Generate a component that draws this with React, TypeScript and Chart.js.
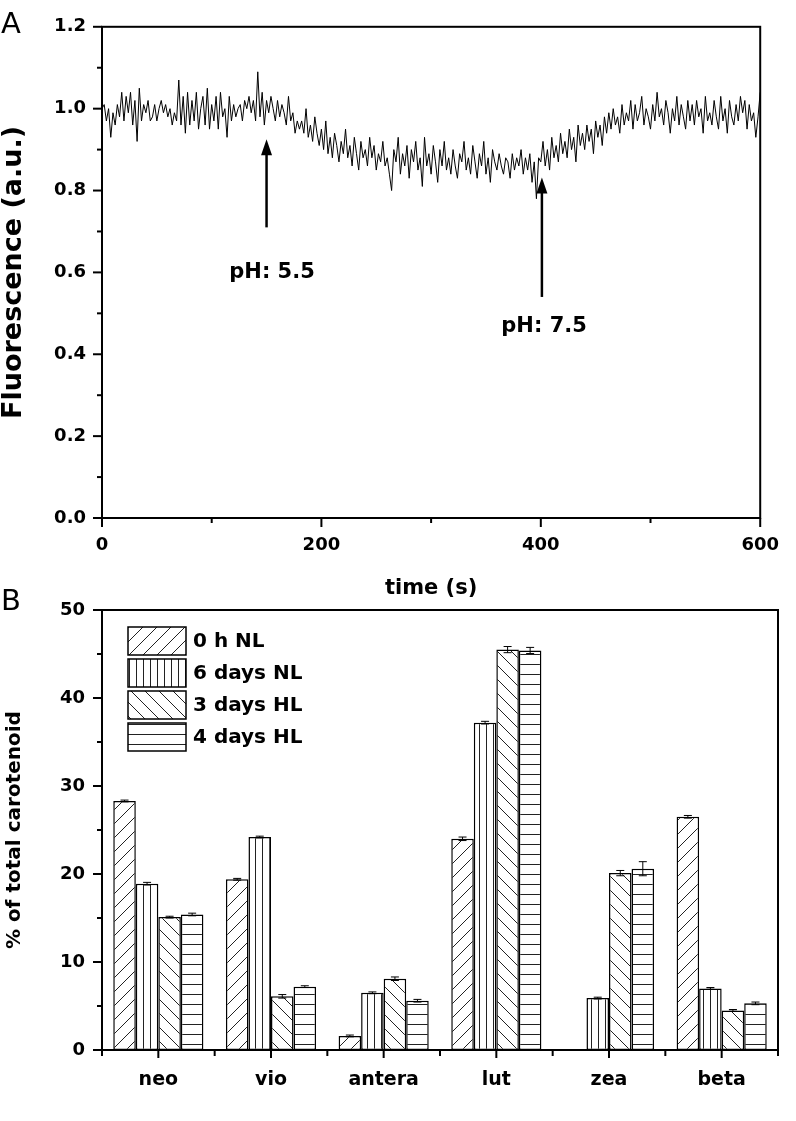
import React, { useEffect, useRef } from "react";
import { Chart, registerables } from "chart.js";

Chart.register(...registerables);

const FONT = "'DejaVu Sans', 'Liberation Sans', sans-serif";

// ---------- Panel A data (time in s, sampled every 2 s) ----------
const times: number[] = Array.from({ length: 301 }, (_, i) => i * 2);
const fluorescence: number[] = [
  1.00, 1.01, 0.97, 1.00, 0.93, 0.99, 0.96, 1.01, 0.98, 1.04,
  0.97, 1.03, 0.99, 1.04, 0.96, 1.02, 0.92, 1.05, 0.97, 1.01,
  0.99, 1.02, 0.97, 0.98, 1.01, 0.97, 1.00, 1.02, 0.99, 1.01,
  0.98, 1.00, 0.96, 0.99, 0.97, 1.07, 0.96, 1.03, 0.94, 1.04,
  0.96, 1.02, 0.97, 1.04, 0.95, 1.00, 1.03, 0.96, 1.05, 0.95,
  1.01, 0.97, 1.03, 0.95, 1.04, 0.98, 1.00, 0.93, 1.03, 0.97,
  1.01, 0.98, 1.00, 1.01, 0.97, 1.02, 1.00, 1.03, 0.99, 1.02,
  0.97, 1.09, 0.98, 1.04, 0.96, 1.02, 0.99, 1.03, 1.00, 0.97,
  1.02, 0.98, 1.01, 0.99, 0.96, 1.03, 0.97, 0.99, 0.94, 0.97,
  0.95, 0.97, 0.94, 1.00, 0.93, 0.96, 0.92, 0.98, 0.94, 0.91,
  0.95, 0.90, 0.97, 0.89, 0.93, 0.88, 0.94, 0.91, 0.87, 0.92,
  0.89, 0.95, 0.88, 0.91, 0.86, 0.93, 0.89, 0.85, 0.92, 0.88,
  0.90, 0.86, 0.93, 0.88, 0.91, 0.85, 0.89, 0.87, 0.92, 0.86,
  0.88, 0.84, 0.80, 0.90, 0.87, 0.93, 0.84, 0.89, 0.86, 0.91,
  0.83, 0.90, 0.87, 0.92, 0.85, 0.88, 0.81, 0.93, 0.86, 0.89,
  0.84, 0.91, 0.87, 0.82, 0.90, 0.86, 0.92, 0.85, 0.88, 0.84,
  0.90, 0.86, 0.83, 0.89, 0.87, 0.92, 0.85, 0.88, 0.84, 0.91,
  0.87, 0.83, 0.89, 0.86, 0.92, 0.84, 0.88, 0.82, 0.90, 0.87,
  0.85, 0.89, 0.86, 0.84, 0.88, 0.87, 0.83, 0.89, 0.85, 0.88,
  0.86, 0.90, 0.84, 0.88, 0.85, 0.89, 0.82, 0.87, 0.78, 0.88,
  0.87, 0.92, 0.86, 0.90, 0.85, 0.93, 0.88, 0.91, 0.87, 0.94,
  0.89, 0.92, 0.88, 0.95, 0.90, 0.93, 0.87, 0.96, 0.91, 0.94,
  0.90, 0.96, 0.92, 0.95, 0.89, 0.97, 0.93, 0.96, 0.91, 0.98,
  0.94, 0.99, 0.95, 1.00, 0.96, 0.98, 0.94, 1.01, 0.96, 0.99,
  0.97, 1.02, 0.95, 1.01, 0.97, 0.99, 1.03, 0.96, 1.00, 0.98,
  0.95, 1.01, 0.97, 1.04, 0.98, 1.00, 0.96, 1.02, 0.99, 0.94,
  1.00, 0.97, 1.03, 0.96, 1.01, 0.98, 0.95, 1.02, 0.97, 1.01,
  0.96, 1.02, 0.98, 1.00, 0.94, 1.03, 0.97, 0.99, 0.96, 1.02,
  0.98, 0.95, 1.03, 0.97, 1.00, 0.94, 1.02, 0.98, 0.96, 1.01,
  0.97, 1.03, 0.99, 1.02, 0.95, 1.01, 0.97, 0.99, 0.93, 0.98,
  1.04,
];
// arrows: [time, tail value, head value], labels: [text, time, value]
const arrowsA = [
  [150, 0.71, 0.925],
  [401, 0.54, 0.832],
];
const arrowLabels: [string, number, number][] = [
  ["pH: 5.5", 155, 0.60],
  ["pH: 7.5", 403, 0.468],
];

// ---------- Panel B data ----------
const pigments = ["neo", "vio", "antera", "lut", "zea", "beta"];
const seriesNames = ["0 h NL", "6 days NL", "3 days HL", "4 days HL"];
const nl0h = [28.3, 19.4, 1.6, 24.0, null, 26.5];
const nl6d = [18.9, 24.2, 6.5, 37.2, 5.9, 7.0];
const hl3d = [15.1, 6.1, 8.1, 45.5, 20.1, 4.5];
const hl4d = [15.4, 7.2, 5.6, 45.4, 20.6, 5.3];
const err0h = [0.1, 0.1, 0.1, 0.2, 0, 0.15];
const err6d = [0.15, 0.1, 0.1, 0.15, 0.1, 0.1];
const err3d = [0.1, 0.2, 0.2, 0.35, 0.3, 0.1];
const err4d = [0.15, 0.1, 0.15, 0.35, 0.8, 0.15];
const patternKinds = ["/", "v", "\\", "h"];

function makePattern(kind: string): CanvasPattern | string {
  const c = document.createElement("canvas");
  let w = 14, h = 14;
  if (kind === "v") { w = 7; h = 7; }
  if (kind === "h") { w = 10; h = 10; }
  c.width = w; c.height = h;
  const g = c.getContext("2d");
  if (!g) return "#fff";
  g.fillStyle = "#fff";
  g.fillRect(0, 0, w, h);
  g.strokeStyle = "#222";
  g.lineWidth = 1;
  g.beginPath();
  if (kind === "/") {
    g.moveTo(0, h); g.lineTo(w, 0);
    g.moveTo(-2, 2); g.lineTo(2, -2);
    g.moveTo(w - 2, h + 2); g.lineTo(w + 2, h - 2);
  } else if (kind === "\\") {
    g.moveTo(0, 0); g.lineTo(w, h);
    g.moveTo(-2, h - 2); g.lineTo(2, h + 2);
    g.moveTo(w - 2, -2); g.lineTo(w + 2, 2);
  } else if (kind === "v") {
    g.moveTo(3.5, 0); g.lineTo(3.5, h);
  } else {
    g.moveTo(0, 4.5); g.lineTo(w, 4.5);
  }
  g.stroke();
  const p = g.createPattern(c, "repeat");
  return p || "#fff";
}

function line(ctx: CanvasRenderingContext2D, x1: number, y1: number, x2: number, y2: number) {
  ctx.beginPath();
  ctx.moveTo(x1, y1);
  ctx.lineTo(x2, y2);
  ctx.stroke();
}

const topPlugin = {
  id: "topDecor",
  afterDraw(chart: any) {
    const { ctx, chartArea: a, scales } = chart;
    const x = scales.x, y = scales.y;
    ctx.save();
    ctx.strokeStyle = "#000";
    ctx.lineWidth = 2;
    ctx.strokeRect(a.left, a.top, a.right - a.left, a.bottom - a.top);
    for (let i = 0; i <= 12; i++) {
      const py = y.getPixelForValue(i / 10);
      const len = i % 2 === 0 ? 9 : 5;
      line(ctx, a.left - len, py, a.left, py);
    }
    for (let t = 0; t <= 600; t += 100) {
      const px = x.getPixelForValue(t);
      const len = t % 200 === 0 ? 9 : 5;
      line(ctx, px, a.bottom, px, a.bottom + len);
    }
    // arrows
    ctx.fillStyle = "#000";
    for (const [t, v0, v1] of arrowsA) {
      const px = x.getPixelForValue(t);
      const y0 = y.getPixelForValue(v0);
      const y1 = y.getPixelForValue(v1);
      ctx.lineWidth = 2.5;
      line(ctx, px, y0, px, y1 + 12);
      ctx.beginPath();
      ctx.moveTo(px, y1);
      ctx.lineTo(px - 5.5, y1 + 16);
      ctx.lineTo(px + 5.5, y1 + 16);
      ctx.closePath();
      ctx.fill();
    }
    ctx.font = `bold 21px ${FONT}`;
    ctx.textAlign = "center";
    ctx.textBaseline = "middle";
    for (const [txt, t, v] of arrowLabels) {
      ctx.fillText(txt, x.getPixelForValue(t), y.getPixelForValue(v));
    }
    ctx.font = `29px ${FONT}`;
    ctx.textAlign = "left";
    ctx.textBaseline = "alphabetic";
    ctx.fillText("A", 1, 33);
    ctx.restore();
  },
};

const errorSets = [err0h, err6d, err3d, err4d];

const bottomPlugin = {
  id: "bottomDecor",
  afterDatasetsDraw(chart: any) {
    const { ctx, scales } = chart;
    const y = scales.y;
    ctx.save();
    ctx.strokeStyle = "#000";
    ctx.lineWidth = 1;
    chart.data.datasets.forEach((ds: any, i: number) => {
      const meta = chart.getDatasetMeta(i);
      meta.data.forEach((el: any, j: number) => {
        const v = ds.data[j];
        const e = errorSets[i][j];
        if (v == null || !e) return;
        const yt = y.getPixelForValue(v + e);
        const yb = y.getPixelForValue(v - e);
        line(ctx, el.x, yt, el.x, yb);
        line(ctx, el.x - 4, yt, el.x + 4, yt);
        line(ctx, el.x - 4, yb, el.x + 4, yb);
      });
    });
    ctx.restore();
  },
  afterDraw(chart: any) {
    const { ctx, chartArea: a, scales } = chart;
    const x = scales.x, y = scales.y;
    ctx.save();
    ctx.strokeStyle = "#000";
    ctx.lineWidth = 2;
    ctx.strokeRect(a.left, a.top, a.right - a.left, a.bottom - a.top);
    for (let v = 0; v <= 50; v += 5) {
      const py = y.getPixelForValue(v);
      const len = v % 10 === 0 ? 9 : 5;
      line(ctx, a.left - len, py, a.left, py);
    }
    const n = pigments.length;
    const w = (a.right - a.left) / n;
    for (let i = 0; i < n; i++) {
      const c = x.getPixelForValue(i);
      line(ctx, c, a.bottom, c, a.bottom + 8);
    }
    for (let i = 0; i <= n; i++) {
      const b = a.left + i * w;
      line(ctx, b, a.bottom, b, a.bottom + 6);
    }
    // legend
    const pats = chart.data.datasets.map((d: any) => d.backgroundColor);
    ctx.font = `bold 20px ${FONT}`;
    ctx.textAlign = "left";
    ctx.textBaseline = "middle";
    for (let i = 0; i < seriesNames.length; i++) {
      const bx = 128, by = a.top + 17 + i * 32, bw = 58, bh = 28;
      ctx.fillStyle = pats[i];
      ctx.fillRect(bx, by, bw, bh);
      ctx.lineWidth = 1.5;
      ctx.strokeRect(bx, by, bw, bh);
      ctx.fillStyle = "#000";
      ctx.fillText(seriesNames[i], 193, by + bh / 2 + 1);
    }
    ctx.font = `29px ${FONT}`;
    ctx.textBaseline = "alphabetic";
    ctx.fillText("B", 1, a.top);
    ctx.restore();
  },
};

export default function App() {
  const r1 = useRef<HTMLCanvasElement>(null);
  const r2 = useRef<HTMLCanvasElement>(null);

  useEffect(() => {
    const tickFont = { family: FONT, size: 18, weight: "bold" as const };
    const c1 = new Chart(r1.current as HTMLCanvasElement, {
      type: "line",
      data: {
        datasets: [
          {
            data: times.map((t, i) => ({ x: t, y: fluorescence[i] })),
            borderColor: "#000",
            borderWidth: 1,
            pointRadius: 0,
            tension: 0,
            fill: false,
          },
        ],
      },
      options: {
        responsive: false,
        animation: false,
        events: [],
        layout: { padding: { top: 24, right: 20, left: 0, bottom: 0 } },
        plugins: { legend: { display: false }, tooltip: { enabled: false } },
        scales: {
          x: {
            type: "linear",
            min: 0,
            max: 600,
            afterFit: (s: any) => { s.height = 82; },
            grid: { display: false, drawTicks: false },
            border: { display: false },
            ticks: { stepSize: 200, padding: 17, color: "#000", font: tickFont, maxRotation: 0 },
            title: {
              display: true,
              text: "time (s)",
              color: "#000",
              font: { family: FONT, size: 21, weight: "bold", lineHeight: 1 },
              padding: { top: 0, bottom: 1 },
            },
          },
          y: {
            type: "linear",
            min: 0,
            max: 1.2,
            afterFit: (s: any) => { s.width = 102; },
            grid: { display: false, drawTicks: false },
            border: { display: false },
            ticks: {
              stepSize: 0.2,
              padding: 16,
              color: "#000",
              font: tickFont,
              callback: (v: any) => Number(v).toFixed(1),
            },
            title: {
              display: true,
              text: "Fluorescence (a.u.)",
              color: "#000",
              font: { family: FONT, size: 27, weight: "bold", lineHeight: 1 },
              padding: { top: 0, bottom: 0 },
            },
          },
        },
      },
      plugins: [topPlugin],
    });

    const series = [nl0h, nl6d, hl3d, hl4d];
    const c2 = new Chart(r2.current as HTMLCanvasElement, {
      type: "bar",
      data: {
        labels: pigments,
        datasets: series.map((d, i) => ({
          label: seriesNames[i],
          data: d,
          backgroundColor: makePattern(patternKinds[i]) as any,
          borderColor: "#000",
          borderWidth: 1.5,
          borderSkipped: false,
          categoryPercentage: 0.8,
          barPercentage: 1,
        })),
      },
      options: {
        responsive: false,
        animation: false,
        events: [],
        layout: { padding: { top: 50, right: 18, left: 0, bottom: 0 } },
        plugins: { legend: { display: false }, tooltip: { enabled: false } },
        scales: {
          x: {
            type: "category",
            afterFit: (s: any) => { s.height = 71; },
            grid: { display: false, drawTicks: false },
            border: { display: false },
            ticks: { padding: 19, color: "#000", font: { family: FONT, size: 19, weight: "bold" }, maxRotation: 0 },
          },
          y: {
            type: "linear",
            min: 0,
            max: 50,
            afterFit: (s: any) => { s.width = 102; },
            grid: { display: false, drawTicks: false },
            border: { display: false },
            ticks: { stepSize: 10, padding: 17, color: "#000", font: tickFont },
            title: {
              display: true,
              text: "% of total carotenoid",
              color: "#000",
              font: { family: FONT, size: 20, weight: "bold", lineHeight: 1 },
              padding: { top: 5, bottom: 0 },
            },
          },
        },
      },
      plugins: [bottomPlugin],
    });

    return () => {
      c1.destroy();
      c2.destroy();
    };
  }, []);

  return (
    <div style={{ position: "absolute", left: 0, top: 0, width: 796, height: 1121, background: "#fff" }}>
      <canvas
        ref={r1}
        width={796}
        height={600}
        style={{ position: "absolute", left: 0, top: 0, width: 796, height: 600 }}
      />
      <canvas
        ref={r2}
        width={796}
        height={561}
        style={{ position: "absolute", left: 0, top: 560, width: 796, height: 561 }}
      />
    </div>
  );
}
